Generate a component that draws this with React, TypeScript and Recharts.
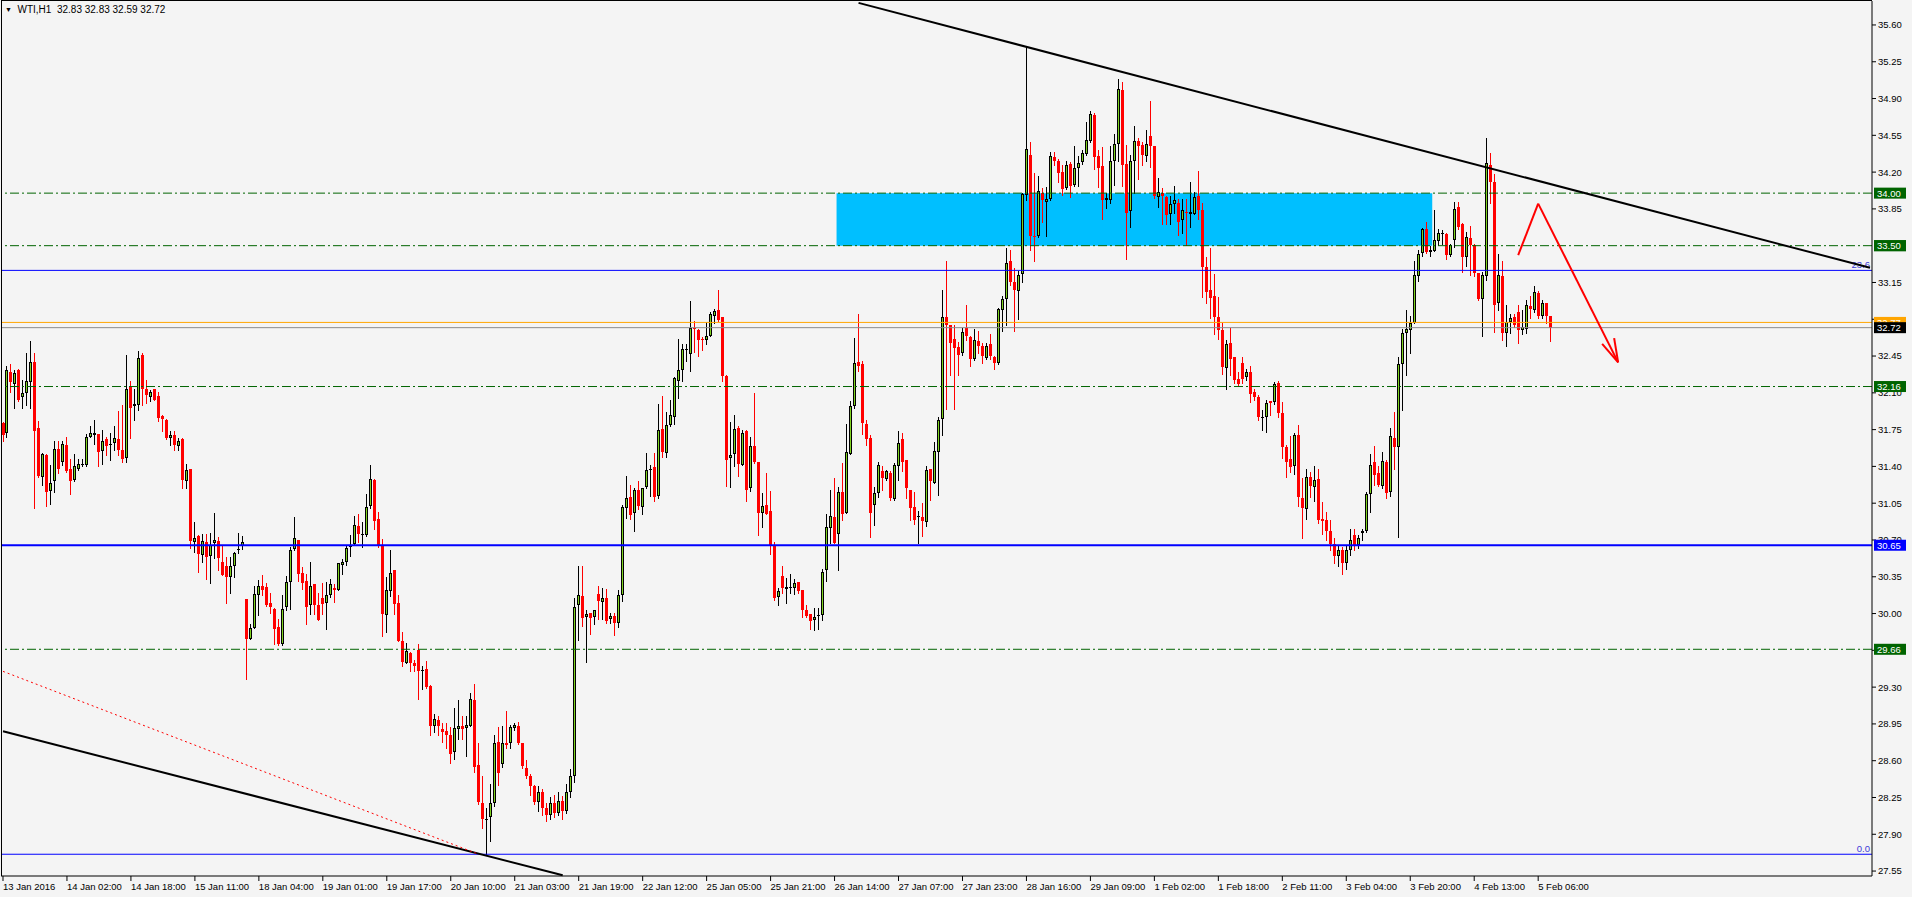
import { ComposedChart, Bar, XAxis, YAxis, ReferenceLine, ReferenceArea } from 'recharts';

// hourly WTI candles, [open, high, low, close]
type OHLC = [number, number, number, number];

const bars13to15Jan: OHLC[] = [
  [31.81, 31.82, 31.64, 31.70], [31.72, 32.36, 31.68, 32.32], [32.30, 32.37, 32.11, 32.20], [32.18, 32.32, 31.96, 32.29],
  [32.32, 32.33, 32.02, 32.03], [32.06, 32.22, 31.96, 32.10], [32.10, 32.48, 31.98, 32.21], [32.20, 32.59, 31.96, 32.39],
  [32.39, 32.48, 31.00, 31.74], [31.77, 31.83, 31.30, 31.31], [31.30, 31.53, 31.22, 31.52], [31.51, 31.52, 31.02, 31.16],
  [31.17, 31.41, 31.04, 31.24], [31.26, 31.64, 31.16, 31.57], [31.57, 31.64, 31.34, 31.38], [31.44, 31.64, 31.41, 31.61],
  [31.60, 31.68, 31.35, 31.36], [31.38, 31.47, 31.14, 31.26], [31.27, 31.52, 31.26, 31.40], [31.38, 31.47, 31.37, 31.42],
  [31.41, 31.47, 31.40, 31.42], [31.41, 31.71, 31.40, 31.68], [31.68, 31.78, 31.68, 31.72], [31.70, 31.84, 31.61, 31.72],
  [31.71, 31.71, 31.40, 31.54], [31.55, 31.75, 31.42, 31.64], [31.66, 31.68, 31.51, 31.59], [31.60, 31.72, 31.46, 31.61],
  [31.62, 31.78, 31.56, 31.67], [31.66, 31.93, 31.51, 31.56], [31.56, 31.98, 31.44, 31.47], [31.48, 32.46, 31.44, 32.14],
  [32.16, 32.21, 31.67, 31.96], [31.97, 32.14, 31.84, 31.99], [31.98, 32.50, 31.94, 32.43], [32.46, 32.48, 31.98, 32.14],
  [32.14, 32.22, 32.00, 32.08], [32.06, 32.13, 32.02, 32.11], [32.14, 32.14, 32.03, 32.03], [32.07, 32.11, 31.83, 31.86],
  [31.88, 31.89, 31.74, 31.85], [31.84, 31.85, 31.66, 31.67], [31.67, 31.74, 31.60, 31.70], [31.70, 31.74, 31.56, 31.60],
  [31.59, 31.67, 31.56, 31.64], [31.66, 31.67, 31.19, 31.27], [31.26, 31.42, 31.19, 31.37], [31.38, 31.38, 30.62, 30.69],
  [30.68, 30.87, 30.59, 30.72], [30.74, 30.75, 30.40, 30.57], [30.56, 30.76, 30.49, 30.69], [30.68, 30.76, 30.33, 30.54],
  [30.55, 30.77, 30.29, 30.65], [30.67, 30.96, 30.53, 30.70], [30.69, 30.73, 30.41, 30.53], [30.49, 30.65, 30.37, 30.37],
  [30.45, 30.54, 30.10, 30.35], [30.35, 30.54, 30.20, 30.45], [30.45, 30.59, 30.35, 30.58], [30.60, 30.77, 30.58, 30.61],
  [30.64, 30.74, 30.61, 30.68],
];

const bars18to20Jan: OHLC[] = [
  [30.14, 30.14, 29.38, 29.76], [29.76, 29.90, 29.76, 29.86], [29.86, 30.26, 29.86, 30.19], [30.18, 30.32, 29.99, 30.26],
  [30.26, 30.37, 30.18, 30.22], [30.25, 30.29, 30.07, 30.08], [30.10, 30.20, 30.01, 30.06], [30.04, 30.05, 29.71, 29.85],
  [29.87, 29.95, 29.70, 29.71], [29.71, 30.18, 29.70, 30.04], [30.06, 30.36, 30.03, 30.30], [30.30, 30.63, 30.04, 30.60],
  [30.61, 30.92, 30.60, 30.72], [30.70, 30.70, 30.31, 30.38], [30.39, 30.44, 30.23, 30.29], [30.31, 30.38, 29.90, 30.06],
  [30.08, 30.49, 30.00, 30.26], [30.28, 30.28, 30.00, 30.08], [30.08, 30.20, 29.94, 29.94], [30.15, 30.29, 30.00, 30.09],
  [30.10, 30.30, 29.85, 30.18], [30.18, 30.33, 30.16, 30.28], [30.24, 30.28, 30.11, 30.22], [30.22, 30.48, 30.22, 30.48],
  [30.46, 30.52, 30.38, 30.49], [30.49, 30.64, 30.46, 30.62], [30.63, 30.75, 30.55, 30.64], [30.66, 30.93, 30.65, 30.84],
  [30.83, 30.95, 30.68, 30.76], [30.75, 30.87, 30.63, 30.76], [30.75, 31.14, 30.74, 31.01], [31.02, 31.41, 31.00, 31.28],
  [31.27, 31.28, 30.80, 30.88], [30.90, 30.97, 30.63, 30.64], [30.64, 30.71, 29.79, 30.00], [29.99, 30.35, 29.82, 30.22],
  [30.21, 30.60, 30.17, 30.39], [30.41, 30.41, 30.00, 30.09], [30.10, 30.18, 29.74, 29.74], [29.74, 29.82, 29.50, 29.54],
  [29.53, 29.72, 29.53, 29.64], [29.62, 29.63, 29.45, 29.53], [29.53, 29.56, 29.45, 29.50], [29.65, 29.71, 29.19, 29.45],
  [29.45, 29.50, 29.28, 29.46], [29.47, 29.55, 29.29, 29.30], [29.31, 29.32, 28.84, 28.93], [28.93, 29.04, 28.87, 29.00],
  [28.99, 29.03, 28.84, 28.93], [28.90, 28.96, 28.78, 28.87], [28.88, 28.96, 28.72, 28.84], [28.84, 28.92, 28.58, 28.66],
  [28.68, 29.10, 28.62, 28.91], [28.90, 29.18, 28.81, 28.93], [28.93, 29.03, 28.81, 28.90], [28.91, 29.03, 28.64, 28.94],
  [28.93, 29.24, 28.93, 29.19], [29.18, 29.33, 28.49, 28.54], [28.56, 28.77, 28.19, 28.21], [28.20, 28.45, 27.96, 28.05],
];

const bars20to25Jan: OHLC[] = [
  [28.04, 28.15, 27.71, 28.05], [28.06, 28.38, 27.84, 28.20], [28.20, 28.84, 28.17, 28.77], [28.78, 28.92, 28.37, 28.48],
  [28.57, 28.93, 28.54, 28.77], [28.77, 29.07, 28.72, 28.75], [28.77, 28.94, 28.72, 28.92], [28.91, 28.96, 28.89, 28.94],
  [28.93, 28.97, 28.76, 28.77], [28.77, 28.77, 28.53, 28.55], [28.53, 28.61, 28.44, 28.45], [28.45, 28.47, 28.27, 28.36],
  [28.36, 28.37, 28.19, 28.21], [28.21, 28.36, 28.12, 28.30], [28.30, 28.33, 28.08, 28.15], [28.15, 28.20, 28.03, 28.08],
  [28.08, 28.25, 28.05, 28.20], [28.20, 28.27, 28.06, 28.10], [28.10, 28.30, 28.08, 28.22], [28.22, 28.26, 28.05, 28.12],
  [28.12, 28.38, 28.10, 28.30], [28.30, 28.52, 28.25, 28.45], [28.45, 30.15, 28.40, 30.06], [30.08, 30.45, 29.75, 30.18],
  [30.17, 30.45, 29.88, 29.96], [29.97, 30.03, 29.54, 30.00], [30.01, 30.01, 29.81, 29.96], [29.97, 30.03, 29.90, 30.03],
  [30.19, 30.26, 29.95, 30.12], [30.11, 30.24, 29.95, 30.15], [30.15, 30.23, 29.91, 29.93], [29.95, 30.01, 29.91, 29.98],
  [29.98, 30.01, 29.80, 29.91], [29.91, 30.22, 29.87, 30.18], [30.18, 31.03, 30.12, 31.01], [31.00, 31.31, 30.91, 31.10],
  [31.11, 31.22, 30.90, 30.94], [30.96, 31.19, 30.79, 31.18], [31.18, 31.26, 30.99, 31.02], [31.01, 31.19, 30.95, 31.19],
  [31.20, 31.53, 31.19, 31.37], [31.37, 31.41, 31.12, 31.38], [31.39, 31.53, 31.07, 31.11], [31.12, 31.99, 31.10, 31.75],
  [31.76, 32.07, 31.49, 31.54], [31.53, 31.92, 31.49, 31.79], [31.79, 32.03, 31.78, 31.89], [31.87, 32.25, 31.80, 32.24],
  [32.21, 32.61, 32.05, 32.32], [32.32, 32.56, 32.21, 32.52], [32.51, 32.56, 32.40, 32.52], [32.47, 32.97, 32.31, 32.72],
  [32.72, 32.78, 32.49, 32.71], [32.70, 32.71, 32.45, 32.60], [32.61, 32.63, 32.51, 32.60], [32.60, 32.77, 32.56, 32.64],
  [32.64, 32.87, 32.64, 32.85], [32.83, 32.90, 32.76, 32.88], [32.89, 33.08, 32.78, 32.79], [32.82, 32.82, 32.21, 32.26],
];

const bars25to27Jan: OHLC[] = [
  [32.26, 32.27, 31.21, 31.46], [31.48, 31.82, 31.20, 31.51], [31.52, 31.89, 31.40, 31.76], [31.77, 31.78, 31.31, 31.42],
  [31.41, 31.75, 31.41, 31.72], [31.74, 31.75, 31.07, 31.18], [31.19, 31.68, 31.17, 31.59], [31.59, 32.10, 31.43, 31.44],
  [31.44, 31.44, 30.75, 30.96], [30.96, 31.15, 30.82, 31.02], [31.03, 31.34, 30.95, 30.95], [30.98, 31.17, 30.57, 30.64],
  [30.65, 30.68, 30.13, 30.15], [30.16, 30.24, 30.08, 30.21], [30.36, 30.45, 30.20, 30.24], [30.23, 30.34, 30.10, 30.25],
  [30.24, 30.38, 30.20, 30.25], [30.24, 30.33, 30.19, 30.29], [30.30, 30.30, 30.20, 30.21], [30.22, 30.22, 29.97, 30.03],
  [30.03, 30.08, 29.97, 29.98], [30.00, 30.00, 29.85, 29.93], [29.94, 30.05, 29.84, 29.97], [29.98, 30.05, 29.85, 29.99],
  [29.99, 30.42, 29.94, 30.40], [30.41, 30.95, 30.31, 30.82], [30.81, 31.18, 30.67, 30.93], [30.92, 31.29, 30.67, 30.67],
  [30.76, 31.20, 30.41, 31.16], [31.16, 31.43, 30.89, 30.95], [30.96, 31.80, 30.96, 31.54], [31.52, 32.02, 31.52, 31.97],
  [31.97, 32.62, 31.96, 32.38], [32.39, 32.85, 32.31, 32.36], [32.37, 32.40, 31.71, 31.81], [31.80, 31.84, 31.60, 31.66],
  [31.67, 31.70, 30.73, 30.96], [31.03, 31.20, 30.84, 31.15], [31.15, 31.44, 31.11, 31.41], [31.36, 31.40, 31.18, 31.29],
  [31.28, 31.37, 31.27, 31.36], [31.34, 31.36, 31.08, 31.10], [31.09, 31.43, 31.08, 31.41], [31.40, 31.74, 31.27, 31.62],
  [31.66, 31.72, 31.36, 31.44], [31.46, 31.46, 31.10, 31.19], [31.18, 31.18, 30.89, 31.00], [31.01, 31.16, 30.85, 30.89],
  [30.92, 30.98, 30.67, 30.93], [30.92, 31.05, 30.74, 30.88], [30.87, 31.40, 30.83, 31.37], [31.38, 31.38, 31.08, 31.26],
  [31.24, 31.63, 31.24, 31.55], [31.54, 31.87, 31.13, 31.84], [31.85, 33.08, 31.70, 32.82], [32.82, 33.35, 31.95, 32.75],
  [32.75, 32.75, 32.27, 32.57], [32.61, 32.75, 31.95, 32.53], [32.54, 32.58, 32.27, 32.46], [32.48, 32.72, 32.46, 32.68],
];

const bars28Janto1Feb: OHLC[] = [
  [32.72, 32.94, 32.60, 32.64], [32.63, 32.64, 32.36, 32.42], [32.42, 32.71, 32.41, 32.60], [32.59, 32.69, 32.48, 32.55],
  [32.55, 32.57, 32.38, 32.45], [32.43, 32.57, 32.42, 32.55], [32.56, 32.66, 32.42, 32.45], [32.44, 32.45, 32.33, 32.38],
  [32.38, 32.91, 32.37, 32.90], [32.89, 33.02, 32.69, 32.99], [32.99, 33.48, 32.75, 33.34], [33.35, 33.46, 33.13, 33.15],
  [33.15, 33.29, 32.69, 33.08], [33.07, 33.26, 32.80, 33.22], [33.23, 34.00, 33.15, 33.99], [33.98, 35.39, 33.93, 34.42],
  [34.36, 34.49, 33.46, 33.59], [33.59, 34.19, 33.35, 33.58], [33.59, 34.16, 33.58, 34.02], [34.00, 34.05, 33.73, 33.93],
  [33.92, 34.06, 33.59, 33.94], [33.94, 34.39, 33.93, 34.35], [34.34, 34.39, 34.27, 34.31], [34.31, 34.32, 34.11, 34.19],
  [34.20, 34.27, 33.98, 34.04], [34.05, 34.31, 34.04, 34.27], [34.28, 34.30, 33.96, 34.07], [34.08, 34.45, 34.07, 34.24],
  [34.24, 34.35, 34.07, 34.29], [34.30, 34.41, 34.28, 34.38], [34.37, 34.68, 34.36, 34.51], [34.50, 34.78, 34.49, 34.75],
  [34.74, 34.76, 34.23, 34.34], [34.35, 34.41, 34.06, 34.24], [34.26, 34.44, 33.75, 33.93], [33.93, 34.00, 33.86, 33.95],
  [33.93, 34.45, 33.91, 34.31], [34.31, 34.56, 34.08, 34.47], [34.47, 35.09, 34.31, 34.99], [34.98, 35.06, 34.07, 34.27],
  [34.28, 34.46, 33.37, 33.81], [33.83, 34.36, 33.68, 34.31], [34.31, 34.64, 34.00, 34.50], [34.50, 34.52, 34.13, 34.45],
  [34.46, 34.49, 34.27, 34.36], [34.35, 34.60, 34.31, 34.47], [34.54, 34.88, 34.25, 34.45], [34.45, 34.45, 33.95, 33.97],
  [33.96, 34.14, 33.87, 34.01], [34.00, 34.05, 33.71, 33.97], [33.96, 33.97, 33.71, 33.79], [33.80, 33.97, 33.71, 33.90],
  [33.90, 34.07, 33.81, 33.93], [33.91, 33.94, 33.60, 33.73], [33.74, 33.94, 33.62, 33.84], [33.82, 33.94, 33.51, 33.81],
  [33.80, 34.11, 33.68, 33.82], [33.80, 34.01, 33.80, 33.96], [33.97, 34.21, 33.75, 33.84], [33.84, 33.91, 33.01, 33.30],
];

const bars1to3Feb: OHLC[] = [
  [33.30, 33.39, 32.95, 33.06], [33.08, 33.48, 32.81, 33.00], [33.02, 33.23, 32.66, 32.82], [32.82, 33.01, 32.61, 32.70],
  [32.70, 32.76, 32.28, 32.35], [32.34, 32.60, 32.14, 32.56], [32.57, 32.72, 32.27, 32.42], [32.44, 32.44, 32.19, 32.22],
  [32.23, 32.30, 32.17, 32.18], [32.38, 32.44, 32.19, 32.23], [32.25, 32.33, 32.22, 32.30], [32.30, 32.36, 32.01, 32.09],
  [32.11, 32.14, 32.03, 32.06], [32.06, 32.08, 31.84, 31.87], [31.86, 31.94, 31.75, 31.87], [31.87, 32.03, 31.73, 32.00],
  [32.02, 32.02, 31.89, 32.00], [32.01, 32.20, 31.99, 32.18], [32.19, 32.21, 31.87, 31.91], [31.91, 32.01, 31.48, 31.58],
  [31.58, 31.60, 31.30, 31.44], [31.47, 31.69, 31.35, 31.39], [31.40, 31.72, 31.33, 31.70], [31.70, 31.79, 31.02, 31.11],
  [31.10, 31.29, 30.72, 31.00], [30.99, 31.38, 30.90, 31.30], [31.30, 31.35, 31.11, 31.21], [31.20, 31.40, 31.07, 31.27],
  [31.28, 31.38, 30.86, 30.89], [30.90, 31.06, 30.76, 30.88], [30.89, 30.97, 30.70, 30.79], [30.79, 30.89, 30.60, 30.66],
  [30.66, 30.72, 30.48, 30.55], [30.55, 30.65, 30.45, 30.60], [30.60, 30.63, 30.38, 30.48], [30.48, 30.65, 30.42, 30.60],
  [30.60, 30.80, 30.56, 30.70], [30.75, 30.80, 30.60, 30.65], [30.65, 30.75, 30.62, 30.72], [30.77, 30.80, 30.70, 30.79],
  [30.79, 31.16, 30.78, 31.14], [31.14, 31.52, 30.97, 31.41], [31.44, 31.59, 31.22, 31.32], [31.34, 31.40, 31.21, 31.22],
  [31.21, 31.54, 31.19, 31.45], [31.44, 31.46, 31.10, 31.15], [31.16, 31.77, 31.12, 31.69], [31.67, 31.92, 31.38, 31.58],
  [31.58, 32.44, 30.73, 32.37], [32.37, 32.71, 31.94, 32.67], [32.67, 32.89, 32.27, 32.71], [32.70, 32.83, 32.48, 32.76],
  [32.76, 33.35, 32.76, 33.22], [33.21, 33.46, 33.16, 33.42], [33.43, 33.67, 33.40, 33.66], [33.66, 33.73, 33.43, 33.44],
  [33.44, 33.50, 33.40, 33.46], [33.45, 33.84, 33.45, 33.55], [33.54, 33.66, 33.51, 33.62], [33.61, 33.65, 33.52, 33.62],
];

const bars4to5Feb: OHLC[] = [
  [33.61, 33.62, 33.37, 33.41], [33.41, 33.52, 33.40, 33.51], [33.55, 33.92, 33.49, 33.85], [33.87, 33.92, 33.66, 33.68],
  [33.71, 33.72, 33.25, 33.39], [33.39, 33.63, 33.31, 33.58], [33.57, 33.69, 33.22, 33.51], [33.51, 33.52, 33.21, 33.24],
  [33.24, 33.24, 32.98, 32.99], [32.99, 33.25, 32.64, 33.22], [33.21, 34.52, 33.17, 34.29], [34.27, 34.38, 33.91, 34.11],
  [34.11, 34.18, 32.68, 32.94], [32.95, 33.42, 32.89, 33.22], [33.21, 33.35, 32.60, 32.67], [32.67, 32.94, 32.55, 32.77],
  [32.77, 32.85, 32.67, 32.81], [32.82, 32.85, 32.73, 32.75], [32.87, 32.94, 32.57, 32.70], [32.70, 32.89, 32.66, 32.73],
  [32.71, 32.98, 32.67, 32.94], [32.93, 33.02, 32.81, 32.90], [32.89, 33.12, 32.87, 33.06], [33.05, 33.07, 32.81, 32.83],
  [32.83, 32.98, 32.81, 32.95], [32.95, 32.95, 32.76, 32.83], [32.83, 32.83, 32.59, 32.72],
];

const timeLabels = [
  '13 Jan 2016', '14 Jan 02:00', '14 Jan 18:00', '15 Jan 11:00', '18 Jan 04:00', '19 Jan 01:00', '19 Jan 17:00',
  '20 Jan 10:00', '21 Jan 03:00', '21 Jan 19:00', '22 Jan 12:00', '25 Jan 05:00', '25 Jan 21:00', '26 Jan 14:00',
  '27 Jan 07:00', '27 Jan 23:00', '28 Jan 16:00', '29 Jan 09:00', '1 Feb 02:00', '1 Feb 18:00', '2 Feb 11:00',
  '3 Feb 04:00', '3 Feb 20:00', '4 Feb 13:00', '5 Feb 06:00',
];
const BARS_PER_LABEL = 16;

const priceTicks = [
  35.6, 35.25, 34.9, 34.55, 34.2, 33.85, 33.5, 33.15, 32.8, 32.45, 32.1, 31.75,
  31.4, 31.05, 30.7, 30.35, 30.0, 29.65, 29.3, 28.95, 28.6, 28.25, 27.9, 27.55,
];

// levels drawn on the chart, with their tag colour on the price scale
const levels = [
  { price: 34.0, color: '#006400', kind: 'dashdot' },
  { price: 33.5, color: '#006400', kind: 'dashdot' },
  { price: 32.77, color: '#ffa500', kind: 'solid' },
  { price: 32.72, color: '#000000', kind: 'bid' },
  { price: 32.16, color: '#006400', kind: 'dashdot' },
  { price: 30.65, color: '#0000ff', kind: 'thick' },
  { price: 29.66, color: '#006400', kind: 'dashdot' },
];
const fibLevels = [
  { price: 33.265, text: '23.6' },
  { price: 27.71, text: '0.0' },
];

// trend lines: [barIndex, price]
const upperTrend = [[214, 35.81], [467, 33.29]];
const lowerTrend = [[0, 28.88], [140, 27.51]];
const dottedTrend = [[0, 29.45], [119, 27.71]];
const arrowPath = [[379, 33.41], [384, 33.9], [404, 32.39]];
const arrowHead = [[400, 32.565], [403, 32.62]];
const supplyZone = { from: 209, to: 357, low: 33.5, high: 34.0 };

const candles: OHLC[] = [
  ...bars13to15Jan, ...bars18to20Jan, ...bars20to25Jan, ...bars25to27Jan,
  ...bars28Janto1Feb, ...bars1to3Feb, ...bars4to5Feb,
];
const TOTAL_SLOTS = 468;
const chartData = Array.from({ length: TOTAL_SLOTS }, (_, i) => {
  const k = candles[i];
  if (!k) return { i };
  const [o, h, l, c] = k;
  return { i, o, h, l, c, range: [l, h] };
});
const labelTicks = timeLabels.map((_, k) => k * BARS_PER_LABEL);

const FONT = '"Liberation Sans", Arial, sans-serif';
const UP = '#7fd320';
const DOWN = '#ff0000';

function Candle(props: any) {
  const { x, y, width, height, payload } = props;
  if (!payload || payload.range == null) return null;
  const { o, h, l, c } = payload;
  const top = Math.min(y, y + height);
  const hgt = Math.abs(height);
  const span = h - l;
  const toY = (p: number) => (span > 0 ? top + ((h - p) / span) * hgt : top);
  const col = Math.floor(x + width / 2);
  const wx = col + 0.5;
  const yHi = Math.round(top);
  const yLo = Math.round(top + hgt);
  const yTop = Math.round(toY(Math.max(o, c)));
  const yBot = Math.round(toY(Math.min(o, c)));
  if (c >= o) {
    return (
      <g shapeRendering="crispEdges">
        <line x1={wx} x2={wx} y1={yHi} y2={yLo + 1} stroke="#000" strokeWidth={1} />
        {yBot - yTop >= 2 ? (
          <rect x={col - 0.5} y={yTop + 0.5} width={2} height={yBot - yTop - 1} fill={UP} stroke="#000" strokeWidth={1} />
        ) : (
          <rect x={col - 1} y={yTop} width={3} height={Math.max(1, yBot - yTop)} fill="#000" />
        )}
      </g>
    );
  }
  return (
    <g shapeRendering="crispEdges">
      <line x1={wx} x2={wx} y1={yHi} y2={yLo + 1} stroke={DOWN} strokeWidth={1} />
      <rect x={col - 1} y={yTop} width={3} height={Math.max(1, yBot - yTop)} fill={DOWN} />
    </g>
  );
}

function TimeTick(props: any) {
  const { x, y, payload } = props;
  const text = timeLabels[payload.value / BARS_PER_LABEL];
  if (text == null) return null;
  return (
    <g>
      <line x1={x} x2={x} y1={y} y2={y + 5} stroke="#000" />
      <text x={x} y={y + 14} fontSize={9.5} fontFamily={FONT} fill="#000" textAnchor="start">
        {text}
      </text>
    </g>
  );
}

function PriceTick(props: any) {
  const { x, y, payload } = props;
  const v = payload.value as number;
  const tag = levels.find((lv) => Math.abs(lv.price - v) < 1e-6);
  if (tag) {
    return (
      <g>
        <rect x={x - 4} y={y - 5.5} width={32} height={11} fill={tag.color} />
        <text x={x - 1} y={y} dy="0.36em" fontSize={9.5} fontFamily={FONT} fill="#fff">
          {v.toFixed(2)}
        </text>
      </g>
    );
  }
  return (
    <g>
      <line x1={x - 6} x2={x - 2} y1={y} y2={y} stroke="#000" />
      <text x={x} y={y} dy="0.36em" fontSize={9.5} fontFamily={FONT} fill="#000">
        {v.toFixed(2)}
      </text>
    </g>
  );
}

function FibLabel(props: any) {
  const { viewBox, text } = props;
  if (!viewBox) return null;
  return (
    <text x={viewBox.x + viewBox.width - 2} y={viewBox.y - 2} textAnchor="end" fontSize={9.5} fontFamily={FONT} fill="#3a3ad8">
      {text}
    </text>
  );
}

const seg = (pts: number[][], a: number, b: number) => [
  { x: pts[a][0], y: pts[a][1] },
  { x: pts[b][0], y: pts[b][1] },
];

export default function App() {
  const yTicks = [...priceTicks, ...levels.map((lv) => lv.price)];
  return (
    <div style={{ position: 'absolute', left: 0, top: 0, width: 1912, height: 897, background: '#f4f4f4', overflow: 'hidden' }}>
      <ComposedChart
        width={1912}
        height={897}
        data={chartData}
        margin={{ top: 1, right: 0, bottom: 0, left: 1 }}
        barCategoryGap={0}
      >
        <XAxis
          dataKey="i"
          type="category"
          ticks={labelTicks}
          interval={0}
          height={21}
          tickSize={0}
          tickMargin={0}
          tickLine={false}
          axisLine={{ stroke: '#000' }}
          tick={<TimeTick />}
        />
        <YAxis
          orientation="right"
          type="number"
          domain={[27.503, 35.828]}
          allowDataOverflow
          ticks={yTicks}
          interval={0}
          width={40}
          tickSize={4}
          tickMargin={2}
          tickLine={false}
          axisLine={{ stroke: '#000' }}
          tick={<PriceTick />}
        />
        <ReferenceArea
          x1={supplyZone.from}
          x2={supplyZone.to}
          y1={supplyZone.low}
          y2={supplyZone.high}
          fill="#00bfff"
          fillOpacity={1}
          stroke="none"
        />
        <Bar dataKey="range" shape={Candle} isAnimationActive={false} />
        {levels.map((lv) => (
          <ReferenceLine
            key={lv.price}
            y={lv.price}
            stroke={lv.kind === 'bid' ? '#8a8a8a' : lv.color}
            strokeWidth={lv.kind === 'thick' ? 2 : 1}
            strokeDasharray={lv.kind === 'dashdot' ? '9 3 2 3' : undefined}
          />
        ))}
        {fibLevels.map((f) => (
          <ReferenceLine key={f.text} y={f.price} stroke="#0000ff" strokeWidth={1} label={<FibLabel text={f.text} />} />
        ))}
        <ReferenceLine segment={seg(upperTrend, 0, 1)} stroke="#000" strokeWidth={2} ifOverflow="visible" />
        <ReferenceLine segment={seg(lowerTrend, 0, 1)} stroke="#000" strokeWidth={2} ifOverflow="visible" />
        <ReferenceLine segment={seg(dottedTrend, 0, 1)} stroke="#ff0000" strokeWidth={1} strokeDasharray="2 3" ifOverflow="visible" />
        <ReferenceLine segment={seg(arrowPath, 0, 1)} stroke="#ff0000" strokeWidth={2} ifOverflow="visible" />
        <ReferenceLine segment={seg(arrowPath, 1, 2)} stroke="#ff0000" strokeWidth={2} ifOverflow="visible" />
        <ReferenceLine segment={[{ x: arrowHead[0][0], y: arrowHead[0][1] }, { x: arrowPath[2][0], y: arrowPath[2][1] }]} stroke="#ff0000" strokeWidth={2} ifOverflow="visible" />
        <ReferenceLine segment={[{ x: arrowHead[1][0], y: arrowHead[1][1] }, { x: arrowPath[2][0], y: arrowPath[2][1] }]} stroke="#ff0000" strokeWidth={2} ifOverflow="visible" />
      </ComposedChart>
      <div style={{ position: 'absolute', left: 1, top: 0, width: 1871, height: 876, borderLeft: '1px solid #000', borderTop: '1px solid #000', boxSizing: 'border-box', pointerEvents: 'none' }} />
      <div style={{ position: 'absolute', left: 5, top: 3, fontFamily: FONT, fontSize: 10, color: '#000', whiteSpace: 'pre', lineHeight: '13px' }}>
        <span style={{ fontSize: 7, position: 'relative', top: -1 }}>▼</span>
        {'  WTI,H1  32.83 32.83 32.59 32.72'}
      </div>
    </div>
  );
}
